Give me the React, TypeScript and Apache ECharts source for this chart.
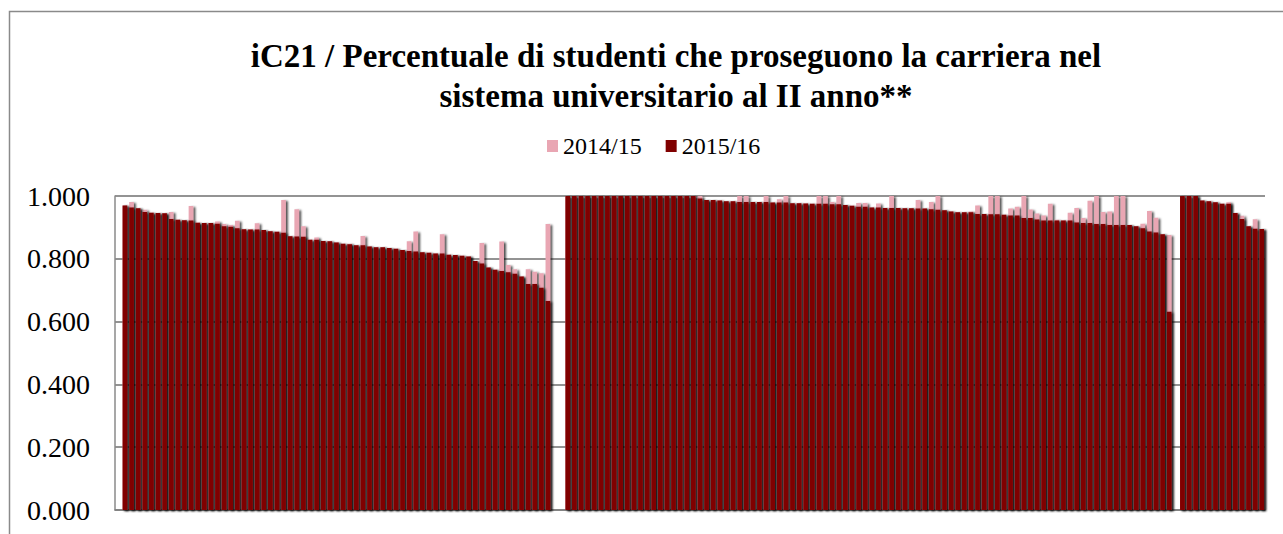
import React, { useEffect, useRef } from "react";
import * as echarts from "echarts";

const titleLine1 = "iC21 / Percentuale di studenti che proseguono la carriera nel";
const titleLine2 = "sistema universitario al II anno**";
const seriesNames = ["2014/15", "2015/16"];
const yTicks = [0, 0.2, 0.4, 0.6, 0.8, 1.0];

// Group 1 (65 courses)
const g1y1516 = [
  0.970, 0.963, 0.961, 0.949, 0.947, 0.946, 0.945, 0.927, 0.924, 0.923,
  0.922, 0.915, 0.914, 0.914, 0.912, 0.904, 0.902, 0.897, 0.894, 0.893,
  0.893, 0.892, 0.888, 0.886, 0.883, 0.872, 0.871, 0.870, 0.861, 0.861,
  0.857, 0.856, 0.852, 0.848, 0.846, 0.843, 0.843, 0.839, 0.837, 0.837,
  0.834, 0.832, 0.828, 0.825, 0.823, 0.821, 0.819, 0.817, 0.817, 0.813,
  0.812, 0.810, 0.807, 0.793, 0.785, 0.772, 0.765, 0.761, 0.757, 0.752,
  0.744, 0.720, 0.720, 0.708, 0.666,
];
const g1y1415 = [
  0.970, 0.981, 0.961, 0.956, 0.947, 0.946, 0.945, 0.949, 0.924, 0.923,
  0.968, 0.915, 0.914, 0.914, 0.919, 0.911, 0.908, 0.921, 0.894, 0.893,
  0.913, 0.892, 0.888, 0.886, 0.987, 0.872, 0.958, 0.904, 0.861, 0.868,
  0.857, 0.856, 0.852, 0.848, 0.848, 0.843, 0.873, 0.839, 0.837, 0.837,
  0.834, 0.832, 0.828, 0.856, 0.887, 0.821, 0.819, 0.817, 0.878, 0.813,
  0.812, 0.810, 0.807, 0.793, 0.850, 0.772, 0.765, 0.855, 0.780, 0.767,
  0.744, 0.767, 0.759, 0.754, 0.911,
];

// Group 2 (92 courses)
const g2y1516 = [
  1.000, 1.000, 1.000, 1.000, 1.000, 1.000, 1.000, 1.000, 1.000, 1.000,
  1.000, 1.000, 1.000, 1.000, 1.000, 1.000, 1.000, 1.000, 1.000, 1.000,
  0.992, 0.987, 0.987, 0.986, 0.983, 0.983, 0.981, 0.981, 0.981, 0.981,
  0.981, 0.979, 0.979, 0.979, 0.977, 0.977, 0.976, 0.975, 0.975, 0.975,
  0.974, 0.974, 0.971, 0.969, 0.966, 0.966, 0.963, 0.963, 0.962, 0.962,
  0.962, 0.961, 0.961, 0.960, 0.960, 0.958, 0.956, 0.955, 0.951, 0.948,
  0.948, 0.948, 0.943, 0.943, 0.942, 0.942, 0.940, 0.938, 0.938, 0.930,
  0.930, 0.925, 0.922, 0.922, 0.922, 0.922, 0.922, 0.916, 0.914, 0.914,
  0.911, 0.911, 0.908, 0.908, 0.908, 0.908, 0.904, 0.897, 0.887, 0.884,
  0.878, 0.631,
];
const g2y1415 = [
  1.000, 1.000, 1.000, 1.000, 1.000, 1.000, 1.000, 1.000, 1.000, 1.000,
  1.000, 1.000, 1.000, 1.000, 1.000, 1.000, 1.000, 1.000, 1.000, 1.000,
  1.000, 0.987, 0.987, 0.986, 0.983, 0.983, 1.000, 1.000, 0.981, 0.981,
  1.000, 0.979, 0.990, 1.000, 0.977, 0.977, 0.976, 0.975, 1.000, 1.000,
  0.981, 1.000, 0.971, 0.969, 0.978, 0.978, 0.963, 0.976, 0.962, 1.000,
  0.962, 0.961, 0.961, 0.987, 0.960, 0.981, 1.000, 0.955, 0.951, 0.948,
  0.948, 0.951, 0.970, 0.943, 1.000, 1.000, 0.940, 0.960, 0.966, 1.000,
  0.957, 0.944, 0.938, 0.975, 0.924, 0.922, 0.947, 0.962, 0.930, 0.985,
  1.000, 0.949, 0.951, 1.000, 1.000, 0.908, 0.904, 0.912, 0.952, 0.931,
  0.878, 0.876,
];

// Group 3 (13 courses)
const g3y1516 = [1.000, 1.000, 1.000, 0.986, 0.983, 0.980, 0.975, 0.975, 0.946, 0.927, 0.904, 0.896, 0.895];
const g3y1415 = [1.000, 1.000, 1.000, 0.986, 0.983, 0.980, 0.975, 0.980, 0.946, 0.937, 0.904, 0.926, 0.895];

const gapBefore = 1;
const gap12 = 2;
const gap23 = 1;

function nulls(n: number) {
  return new Array(n).fill(null);
}

export default function App() {
  const ref = useRef<HTMLDivElement>(null);
  useEffect(() => {
    if (!ref.current) return;
    const chart = echarts.init(ref.current, undefined, { renderer: "svg" });
    const s1415 = [...nulls(gapBefore), ...g1y1415, ...nulls(gap12), ...g2y1415, ...nulls(gap23), ...g3y1415];
    const s1516 = [...nulls(gapBefore), ...g1y1516, ...nulls(gap12), ...g2y1516, ...nulls(gap23), ...g3y1516];
    const categories = s1516.map((_, i) => String(i + 1));
    const serif = "'Liberation Serif', 'DejaVu Serif', serif";
    const shadow = {
      shadowBlur: 2,
      shadowColor: "rgba(0,0,0,0.7)",
      shadowOffsetX: 2,
      shadowOffsetY: 1,
    };
    chart.setOption({
      animation: false,
      backgroundColor: "#ffffff",
      title: {
        text: titleLine1 + "\n" + titleLine2,
        left: 671,
        top: 31,
        textAlign: "center",
        textStyle: {
          fontFamily: serif,
          fontWeight: "bold",
          fontSize: 33,
          lineHeight: 40,
          color: "#000000",
        },
      },
      legend: {
        data: seriesNames,
        left: 547,
        top: 134,
        padding: 0,
        itemWidth: 11,
        itemHeight: 12,
        itemGap: 24,
        icon: "rect",
        textStyle: { fontFamily: serif, fontSize: 24, color: "#000000" },
      },
      graphic: [
        {
          type: "rect",
          z: -10,
          shape: { x: 9.5, y: 11.5, width: 1400, height: 700 },
          style: { fill: "none", stroke: "#8a8a8a", lineWidth: 1.5 },
        },
      ],
      grid: { left: 115, right: 18, top: 196, bottom: 24, containLabel: false },
      xAxis: {
        type: "category",
        data: categories,
        axisLine: { show: true, lineStyle: { color: "#7f7f7f", width: 1.5 } },
        axisTick: { show: false },
        axisLabel: { show: false },
        splitLine: { show: false },
      },
      yAxis: {
        type: "value",
        min: yTicks[0],
        max: yTicks[yTicks.length - 1],
        interval: 0.2,
        axisLine: { show: true, lineStyle: { color: "#8a8a8a", width: 1.5 } },
        axisTick: { show: false },
        axisLabel: {
          fontFamily: serif,
          fontSize: 28,
          color: "#000000",
          margin: 25,
          formatter: (v: number) => v.toFixed(3),
        },
        splitLine: { show: true, lineStyle: { color: "#6f6f6f", width: 1.5 } },
      },
      series: [
        {
          name: seriesNames[0],
          type: "bar",
          data: s1415,
          barGap: "-100%",
          barCategoryGap: "29%",
          itemStyle: { color: "#E9A6B3", ...shadow },
        },
        {
          name: seriesNames[1],
          type: "bar",
          data: s1516,
          barGap: "-100%",
          barCategoryGap: "29%",
          itemStyle: { color: "#800000", ...shadow },
        },
      ],
    });
    return () => chart.dispose();
  }, []);
  return (
    <div
      ref={ref}
      style={{ position: "fixed", left: 0, top: 0, width: 1283, height: 534, background: "#fff" }}
    />
  );
}
